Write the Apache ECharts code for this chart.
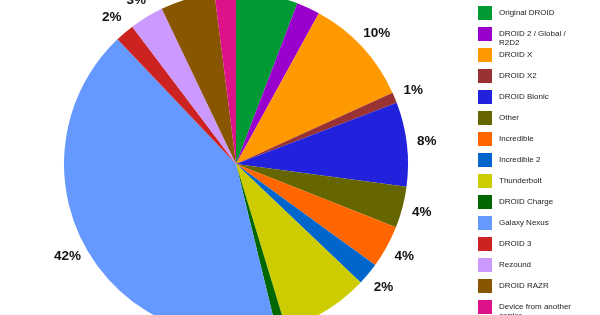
<!DOCTYPE html>
<html>
<head>
<meta charset="utf-8">
<script src="https://cdn.jsdelivr.net/npm/echarts@6/dist/echarts.min.js"></script>
<style>
html,body{margin:0;padding:0;background:#fff;}
#chart{width:600px;height:315px;}
</style>
</head>
<body>
<div id="chart"></div>
<script>
const categories = ["Original DROID", "DROID 2 / Global / R2D2", "DROID X", "DROID X2", "DROID Bionic", "Other", "Incredible", "Incredible 2", "Thunderbolt", "DROID Charge", "Galaxy Nexus", "DROID 3", "Rezound", "DROID RAZR", "Device from another carrier"];
const legendLabels = ["Original DROID", "DROID 2 / Global /\nR2D2", "DROID X", "DROID X2", "DROID Bionic", "Other", "Incredible", "Incredible 2", "Thunderbolt", "DROID Charge", "Galaxy Nexus", "DROID 3", "Rezound", "DROID RAZR", "Device from another\ncarrier"];
const shares = [5.8, 2.2, 10.2, 1.0, 7.9, 3.9, 4.0, 2.1, 8.2, 0.9, 41.7, 1.8, 3.2, 5.1, 2.0];
const colors = ["#009933", "#9900cc", "#ff9900", "#993333", "#2222dd", "#666600", "#ff6600", "#0066cc", "#cccc00", "#006600", "#6699ff", "#cc2222", "#cc99ff", "#885500", "#dd1188"];

const chart = echarts.init(document.getElementById('chart'), null, {renderer: 'canvas'});
const pieData = categories.map((n, i) => ({name: n, value: shares[i], itemStyle: {color: colors[i]}}));
const labelData = categories.map((n, i) => ({name: n, value: shares[i]}));

const LEG_TOP = 6, LEG_STEP = 21, WRAP_SHIFT = 6.5;
const isWrapped = i => legendLabels[i].indexOf('\n') >= 0;
// wrapped labels get an empty leading line so that their first line sits level with the swatch
const legendText = name => {
  const lbl = legendLabels[categories.indexOf(name)];
  return lbl.indexOf('\n') >= 0 ? ' \n' + lbl : lbl;
};
const legendBase = {
  orient: 'vertical',
  left: 478,
  height: 600,
  padding: 0,
  itemWidth: 14,
  itemHeight: 14,
  itemGap: 7,
  icon: 'rect',
  selectedMode: false,
  formatter: legendText,
  textStyle: {
    fontFamily: 'Arial, "Liberation Sans", sans-serif',
    fontSize: 8,
    color: '#222222',
    lineHeight: 9,
    padding: [0, 0, 0, 2]
  }
};
const legends = [];
let start = 0;
for (let i = 0; i <= categories.length; i++) {
  if (i === categories.length || isWrapped(i)) {
    if (i > start) {
      legends.push(Object.assign({}, legendBase, {
        top: LEG_TOP + start * LEG_STEP,
        data: categories.slice(start, i).map(n => ({name: n}))
      }));
    }
    if (i < categories.length) {
      legends.push(Object.assign({}, legendBase, {
        top: LEG_TOP + i * LEG_STEP - WRAP_SHIFT,
        data: [{name: categories[i]}]
      }));
    }
    start = i + 1;
  }
}

chart.setOption({
  animation: false,
  backgroundColor: '#ffffff',
  legend: legends,
  series: [
    {
      type: 'pie',
      center: [236, 164],
      radius: [0, 172],
      startAngle: 90,
      clockwise: true,
      silent: true,
      avoidLabelOverlap: false,
      label: {show: false},
      labelLine: {show: false},
      itemStyle: {borderWidth: 0},
      emphasis: {disabled: true},
      data: pieData
    },
    {
      type: 'pie',
      center: [236, 164],
      radius: [172, 206],
      startAngle: 90,
      clockwise: true,
      silent: true,
      avoidLabelOverlap: false,
      itemStyle: {color: 'rgba(0,0,0,0)', borderWidth: 0},
      emphasis: {disabled: true},
      labelLine: {show: false},
      label: {
        show: true,
        position: 'inside',
        fontFamily: 'Arial, "Liberation Sans", sans-serif',
        fontSize: 13.5,
        fontWeight: 'bold',
        color: '#111111',
        formatter: p => Math.round(p.percent) + '%'
      },
      data: labelData
    }
  ]
});
</script>
</body>
</html>
